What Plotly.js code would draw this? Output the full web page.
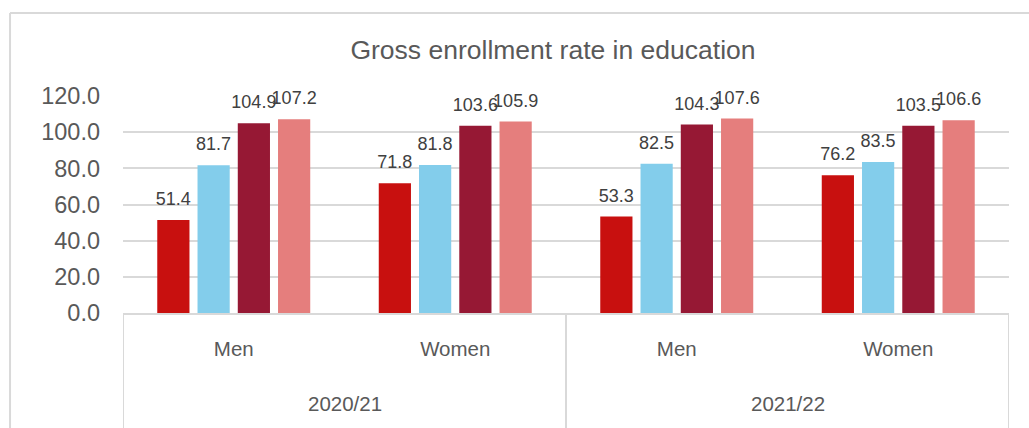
<!DOCTYPE html>
<html>
<head>
<meta charset="utf-8">
<script src="https://cdn.plot.ly/plotly-3.0.1.min.js"></script>
<style>
  html, body { margin: 0; padding: 0; background: #ffffff; }
  #chart { width: 1029px; height: 428px; }
</style>
</head>
<body>
<div id="chart"></div>
<script>
// ---- data ----
const years = ["2020/21", "2020/21", "2021/22", "2021/22"];
const sexes = ["Men", "Women", "Men", "Women"];
const seriesA = [51.4, 71.8, 53.3, 76.2];
const seriesB = [81.7, 81.8, 82.5, 83.5];
const seriesC = [104.9, 103.6, 104.3, 103.5];
const seriesD = [107.2, 105.9, 107.6, 106.6];
const seriesNames = ["Series 1", "Series 2", "Series 3", "Series 4"];
const yTicks = [0, 20, 40, 60, 80, 100, 120];
const chartTitle = "Gross enrollment rate in education";

const colors = ["#C8100F", "#83CDEB", "#961834", "#E57E7D"];
const allSeries = [seriesA, seriesB, seriesC, seriesD];
const FONT = "Liberation Sans, Arial, sans-serif";
const GRID = "#D9D9D9";

// category positions on the x axis (one slot per category)
const pos = sexes.map((_, i) => i);

const traces = [];
allSeries.forEach((vals, i) => {
  traces.push({
    type: "bar",
    x: pos,
    y: vals,
    name: seriesNames[i],
    offsetgroup: "g" + i,
    marker: { color: colors[i], line: { width: 0 } },
    hoverinfo: "y"
  });
});
allSeries.forEach((vals, i) => {
  traces.push({
    type: "scatter",
    mode: "markers+text",
    x: pos,
    y: vals,
    offsetgroup: "g" + i,
    text: vals.map(v => v.toFixed(1)),
    textposition: "top center",
    textfont: { family: FONT, size: 18, color: "#404040" },
    marker: { size: 15, opacity: 0, color: colors[i] },
    cliponaxis: false,
    showlegend: false,
    hoverinfo: "skip"
  });
});

// year groups: label centred over its categories, dividers at group edges
const groups = [];
years.forEach((y, i) => {
  if (!groups.length || groups[groups.length - 1].name !== y) groups.push({ name: y, first: i, last: i });
  else groups[groups.length - 1].last = i;
});
const annotations = groups.map(g => ({
  x: (g.first + g.last) / 2, xref: "x",
  y: -0.419, yref: "paper",
  text: g.name, showarrow: false,
  xanchor: "center", yanchor: "middle",
  font: { family: FONT, size: 20.5, color: "#595959" }
}));
const dividerX = [groups[0].first - 0.5].concat(groups.map(g => g.last + 0.5));
const shapes = dividerX.map(x => ({
  type: "line", xref: "x", yref: "paper",
  x0: x, x1: x, y0: 0, y1: -0.55,
  line: { color: GRID, width: 2 }
}));
// outer chart border (top and left edges)
shapes.push(
  { type: "line", xref: "paper", yref: "paper", x0: -0.1275, x1: 1.03, y0: 1.382, y1: 1.382, line: { color: GRID, width: 2 } },
  { type: "line", xref: "paper", yref: "paper", x0: -0.1275, x1: -0.1275, y0: 1.382, y1: -0.6, line: { color: GRID, width: 2 } }
);

const layout = {
  width: 1029,
  height: 428,
  margin: { l: 123, r: 20, t: 96, b: 115 },
  paper_bgcolor: "#ffffff",
  plot_bgcolor: "#ffffff",
  showlegend: false,
  barmode: "group",
  scattermode: "group",
  bargap: 0.273,
  bargroupgap: 0.2,
  scattergap: 0.273,
  title: {
    text: chartTitle,
    font: { family: FONT, size: 26.5, color: "#595959" },
    x: 0.5374, xref: "container", xanchor: "center",
    y: 0.883, yref: "container", yanchor: "middle"
  },
  xaxis: {
    range: [-0.5, pos.length - 0.5],
    tickvals: pos,
    ticktext: sexes,
    showline: true,
    linecolor: GRID,
    linewidth: 2,
    ticks: "",
    tickfont: { family: FONT, size: 20.5, color: "#595959" },
    ticklabelstandoff: 16,
    showgrid: false,
    zeroline: false
  },
  yaxis: {
    range: [0, 120],
    tickvals: yTicks,
    ticktext: yTicks.map(v => v.toFixed(1)),
    tickfont: { family: FONT, size: 23.5, color: "#595959" },
    showgrid: true,
    gridcolor: GRID,
    gridwidth: 2,
    zeroline: false,
    showline: false,
    ticks: "",
    ticklabelstandoff: 22
  },
  annotations: annotations,
  shapes: shapes
};

Plotly.newPlot("chart", traces, layout, { displayModeBar: false, staticPlot: true });
</script>
</body>
</html>
